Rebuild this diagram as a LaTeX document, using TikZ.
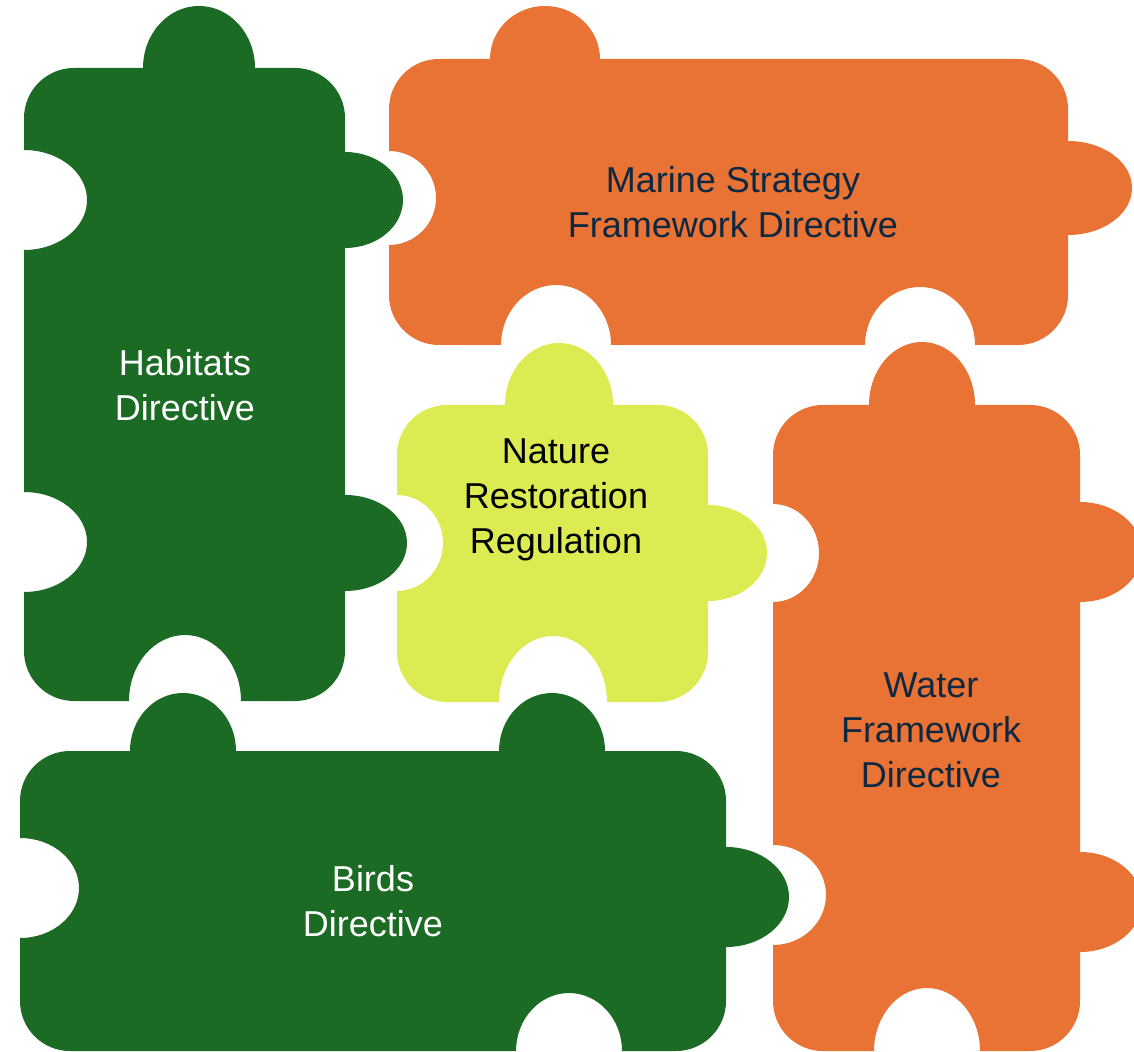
\documentclass[tikz,border=0pt]{standalone}
\usepackage{fontspec}
\setmainfont{Liberation Sans}

\definecolor{leafgreen}{HTML}{1B6B25}
\definecolor{rustorange}{HTML}{E97334}
\definecolor{limeyellow}{HTML}{DCEB51}
\definecolor{navytext}{HTML}{0E2841}

\tikzset{
  piece/.style={draw=none},
  label text/.style={align=center, inner sep=0pt,
    font=\fontsize{18}{22.5}\selectfont}
}

\begin{document}
\begin{tikzpicture}[x=0.5pt, y=-0.5pt]

  % Fix the frame of the picture
  \useasboundingbox (0,0) rectangle (1134,1052);
  \clip (0,0) rectangle (1134,1052);

  % Habitats Directive piece
  \fill[piece, leafgreen] (74,68) -- (143,68)
    arc[start angle=180, end angle=360, x radius=56, y radius=62] -- (295,68)
    arc[start angle=-90, end angle=0, radius=50] -- (345,152)
    arc[start angle=-90, end angle=90, x radius=58, y radius=48] -- (345,495)
    arc[start angle=-90, end angle=90, x radius=62, y radius=48] -- (345,651)
    arc[start angle=0, end angle=90, radius=50] -- (241,701)
    arc[start angle=0, end angle=-180, x radius=56, y radius=66] -- (74,701)
    arc[start angle=90, end angle=180, radius=50] -- (24,592)
    arc[start angle=90, end angle=-90, x radius=63, y radius=50] -- (24,250)
    arc[start angle=90, end angle=-90, x radius=63, y radius=50] -- (24,118)
    arc[start angle=180, end angle=270, radius=50] -- cycle;

  % Marine Strategy Framework Directive piece
  \fill[piece, rustorange] (439,59) -- (490,59)
    arc[start angle=180, end angle=360, x radius=55, y radius=53] -- (1018,59)
    arc[start angle=-90, end angle=0, radius=50] -- (1068,141)
    arc[start angle=-90, end angle=90, x radius=64, y radius=47] -- (1068,295)
    arc[start angle=0, end angle=90, radius=50] -- (975,345)
    arc[start angle=0, end angle=-180, x radius=55, y radius=58] -- (611,345)
    arc[start angle=0, end angle=-180, x radius=55, y radius=60] -- (439,345)
    arc[start angle=90, end angle=180, radius=50] -- (389,245)
    arc[start angle=90, end angle=-90, x radius=47, y radius=47] -- (389,109)
    arc[start angle=180, end angle=270, radius=50] -- cycle;

  % Nature Restoration Regulation piece
  \fill[piece, limeyellow] (447,405) -- (505,405)
    arc[start angle=180, end angle=360, x radius=54, y radius=62] -- (658,405)
    arc[start angle=-90, end angle=0, radius=50] -- (708,505)
    arc[start angle=-90, end angle=90, x radius=59, y radius=48] -- (708,652)
    arc[start angle=0, end angle=90, radius=50] -- (607,702)
    arc[start angle=0, end angle=-180, x radius=54, y radius=66] -- (447,702)
    arc[start angle=90, end angle=180, radius=50] -- (397,591)
    arc[start angle=90, end angle=-90, x radius=46, y radius=48] -- (397,455)
    arc[start angle=180, end angle=270, radius=50] -- cycle;

  % Water Framework Directive piece
  \fill[piece, rustorange] (823,405) -- (869,405)
    arc[start angle=180, end angle=360, x radius=53, y radius=63] -- (1030,405)
    arc[start angle=-90, end angle=0, radius=50] -- (1080,502)
    arc[start angle=-90, end angle=90, x radius=62, y radius=50] -- (1080,852)
    arc[start angle=-90, end angle=90, x radius=62, y radius=50] -- (1080,1001)
    arc[start angle=0, end angle=90, radius=50] -- (980,1051)
    arc[start angle=0, end angle=-180, x radius=53, y radius=63] -- (823,1051)
    arc[start angle=90, end angle=180, radius=50] -- (773,945)
    arc[start angle=90, end angle=-90, x radius=53, y radius=50] -- (773,602)
    arc[start angle=90, end angle=-90, x radius=46, y radius=49] -- (773,455)
    arc[start angle=180, end angle=270, radius=50] -- cycle;

  % Birds Directive piece
  \fill[piece, leafgreen] (70,751) -- (130,751)
    arc[start angle=180, end angle=360, x radius=53, y radius=58] -- (499,751)
    arc[start angle=180, end angle=360, x radius=53, y radius=58] -- (676,751)
    arc[start angle=-90, end angle=0, radius=50] -- (726,847)
    arc[start angle=-90, end angle=90, x radius=63, y radius=50] -- (726,1001)
    arc[start angle=0, end angle=90, radius=50] -- (622,1051)
    arc[start angle=0, end angle=-180, x radius=53, y radius=58] -- (70,1051)
    arc[start angle=90, end angle=180, radius=50] -- (20,938)
    arc[start angle=90, end angle=-90, x radius=59, y radius=50] -- (20,801)
    arc[start angle=180, end angle=270, radius=50] -- cycle;

  % Labels
  \node[label text, text=white] (habitats) at (185,385) {Habitats\\Directive};
  \node[label text, text=navytext] (marine) at (733,202) {Marine Strategy\\Framework Directive};
  \node[label text, text=black] (nature) at (556,500) {Nature\\Restoration\\Regulation};
  \node[label text, text=navytext] (water) at (931,730) {Water\\Framework\\Directive};
  \node[label text, text=white] (birds) at (373,901) {Birds\\Directive};
\end{tikzpicture}
\end{document}
